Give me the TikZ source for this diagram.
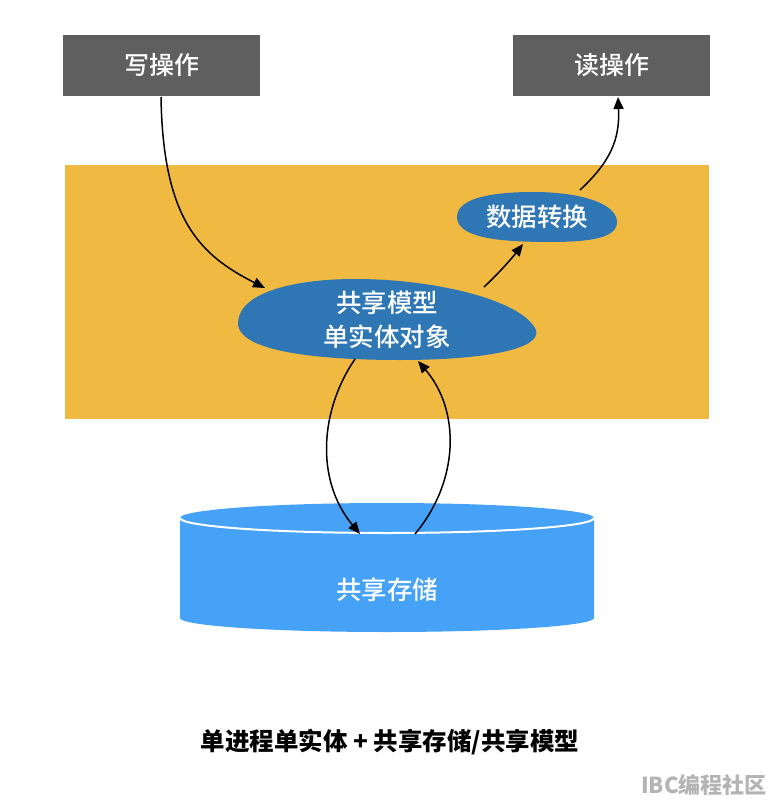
\documentclass[tikz,border=0pt]{standalone}
\usepackage{fontspec}
\newfontfamily\cjk{Noto Sans CJK SC}
\newfontfamily\cjkm{Noto Sans CJK SC Medium}
\usetikzlibrary{arrows.meta}
\definecolor{boxgray}{HTML}{5F5F5F}
\definecolor{panel}{HTML}{F0B942}
\definecolor{blobblue}{HTML}{2F76B5}
\definecolor{cylblue}{HTML}{45A2F6}
\definecolor{wmgray}{HTML}{B4B4B4}
\tikzset{
  opbox/.style={rectangle, fill=boxgray, minimum width=197pt, minimum height=61pt, inner sep=0pt, text=white, font=\cjkm\fontsize{25}{30}\selectfont},
  blobtext/.style={text=white, align=center, font=\cjkm\fontsize{25.5}{34}\selectfont},
  conn/.style={line width=1.5pt, -{Triangle[length=12pt,width=10pt]}},
}
\begin{document}
\begin{tikzpicture}[x=1pt,y=-1pt]
\useasboundingbox (0,0) rectangle (774,810);
\fill[white] (0,0) rectangle (774,810);
% panel
\fill[panel] (65,165) rectangle (709,419);
% boxes
\node[opbox] (write) at (161.5,65.5) {写操作};
\node[opbox] (read) at (611.5,65.5) {读操作};
% blob 1
\fill[blobblue] (238,322) .. controls (240,292) and (295,279) .. (355,279)
  .. controls (435,279) and (522,300) .. (536,330)
  .. controls (542,350) and (480,360) .. (400,360)
  .. controls (320,360) and (236,352) .. (238,322);
\node[blobtext] (model) at (387,320) {共享模型\\单实体对象};
% blob 2
\fill[blobblue] (457,217) .. controls (457,196) and (500,192) .. (533,192)
  .. controls (582,192) and (617,204) .. (617,222)
  .. controls (617,238) and (590,242) .. (550,242)
  .. controls (500,242) and (457,238) .. (457,217);
\node[blobtext] (conv) at (537,217) {数据转换};
% cylinder
\fill[cylblue] (180,518) -- (180,618) arc[start angle=180, end angle=0, x radius=207, y radius=14] -- (594,518) -- cycle;
\fill[cylblue] (387,518) ellipse[x radius=207, y radius=15];
\draw[white, line width=2pt] (180,518) arc[start angle=180, end angle=0, x radius=207, y radius=15];
\node[text=white, font=\cjkm\fontsize{25.5}{30}\selectfont] (store) at (387,590) {共享存储};
% connector end points
\coordinate (w0) at (161,97);
\coordinate (m0) at (265,288);
\coordinate (m1) at (484,287);
\coordinate (c0) at (523,244);
\coordinate (c1) at (580,190);
\coordinate (r0) at (618,97);
\coordinate (m2) at (355,359);
\coordinate (s0) at (360,534);
\coordinate (s1) at (415,534);
\coordinate (m3) at (418,361);
% connectors
\draw[conn] (w0) .. controls (163,220) and (200,255) .. (m0);
\draw[conn] (m1) .. controls (500,272) and (512,258) .. (c0);
\draw[conn] (c1) .. controls (610,162) and (620,140) .. (r0);
\draw[conn] (m2) .. controls (320,410) and (315,480) .. (s0);
\draw[conn] (s1) .. controls (460,480) and (460,410) .. (m3);
% captions
\node[font=\cjk\bfseries\fontsize{24.5}{28}\selectfont] (caption) at (390,742) {单进程单实体 + 共享存储/共享模型};
\node[text=wmgray, font=\cjk\bfseries\fontsize{22}{26}\selectfont] (wm) at (704,785) {IBC编程社区};
\end{tikzpicture}
\end{document}
